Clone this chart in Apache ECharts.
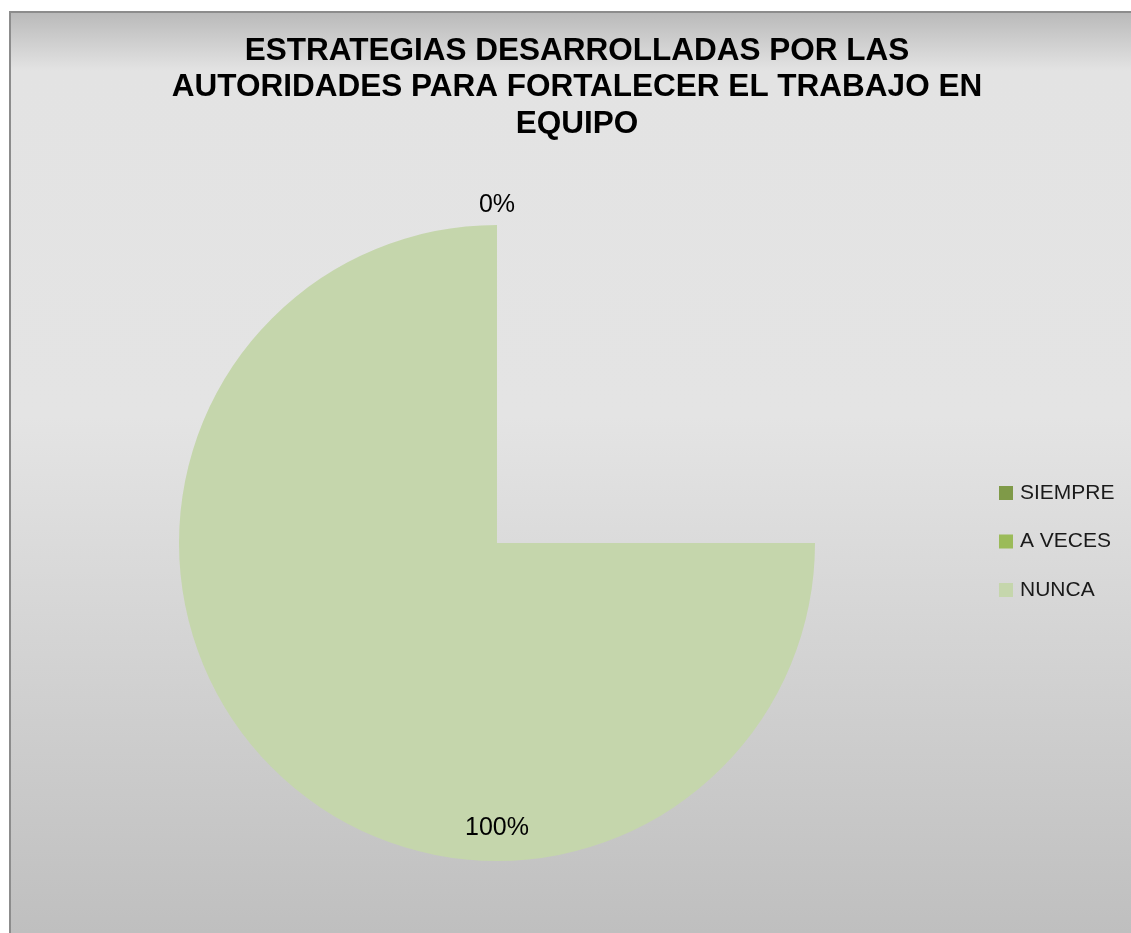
<!DOCTYPE html>
<html>
<head>
<meta charset="utf-8">
<title>Estrategias desarrolladas por las autoridades</title>
<script src="https://cdn.jsdelivr.net/npm/echarts@6/dist/echarts.min.js"></script>
<style>
  html, body { margin: 0; padding: 0; width: 1131px; height: 933px; overflow: hidden; background: #ffffff; }
  #frame {
    position: absolute; left: 9px; top: 11px; width: 1200px; height: 930px;
    border-left: 2px solid #8c8c8c; border-top: 2px solid #8c8c8c;
    background: linear-gradient(to bottom, #bababa 0%, #e3e3e3 6.2%, #e4e4e4 43.4%, #bfbfbf 98.9%, #bebebe 100%);
  }
  #chart { position: absolute; left: 0; top: 0; width: 1131px; height: 933px; }
</style>
</head>
<body>
<div id="frame"></div>
<div id="chart"></div>
<script>
// Survey answers and their share of responses (%)
const categories = ['SIEMPRE', 'A VECES', 'NUNCA'];
const shares = [0, 0, 100];
const palette = ['#7F9A48', '#9BBB59', '#C5D6AC'];
const titleLines = [
  'ESTRATEGIAS DESARROLLADAS POR LAS',
  'AUTORIDADES PARA FORTALECER EL TRABAJO EN',
  'EQUIPO'
];

const pieData = categories.map((name, i) => ({ name: name, value: shares[i] }));
const FONT = '"Liberation Sans", Arial, sans-serif';
const CENTER = [497, 543];
const R = 318;

const chart = echarts.init(document.getElementById('chart'), null, { renderer: 'canvas' });

chart.setOption({
  backgroundColor: 'transparent',
  animation: false,
  color: palette,
  title: {
    text: titleLines.join('\n'),
    left: 577,
    top: 33,
    textAlign: 'center',
    padding: 0,
    textStyle: {
      fontFamily: FONT,
      fontSize: 31.5,
      fontWeight: 'bold',
      color: '#000000',
      lineHeight: 36.5
    }
  },
  legend: {
    orient: 'vertical',
    left: 999,
    top: 482,
    padding: 0,
    itemWidth: 14,
    itemHeight: 14,
    itemGap: 26.5,
    icon: 'rect',
    data: categories,
    textStyle: {
      fontFamily: FONT,
      fontSize: 21,
      lineHeight: 22,
      color: '#1a1a1a',
      padding: [0, 0, 0, 2]
    }
  },
  series: [
    {
      // drawn wedges: the arc runs clockwise from 3 o'clock round to 12 o'clock
      type: 'pie',
      center: CENTER,
      radius: [0, R],
      startAngle: 0,
      endAngle: -270,
      clockwise: true,
      data: pieData,
      itemStyle: { borderWidth: 0 },
      label: { show: false },
      labelLine: { show: false },
      emphasis: { disabled: true }
    },
    {
      // percentage labels for non-empty answers, inside the circle
      type: 'pie',
      center: CENTER,
      radius: [246, R],
      startAngle: 90,
      clockwise: true,
      silent: true,
      legendHoverLink: false,
      data: pieData,
      itemStyle: { color: 'rgba(0,0,0,0)', borderWidth: 0 },
      label: {
        show: true,
        position: 'inside',
        fontFamily: FONT,
        fontSize: 25,
        color: '#000000',
        formatter: p => (p.value > 0 ? p.percent + '%' : '')
      },
      labelLine: { show: false },
      emphasis: { disabled: true }
    },
    {
      // percentage labels for empty answers, just above the circle
      type: 'pie',
      center: CENTER,
      radius: [R, 352],
      startAngle: 90,
      clockwise: true,
      silent: true,
      legendHoverLink: false,
      data: pieData,
      itemStyle: { color: 'rgba(0,0,0,0)', borderWidth: 0 },
      label: {
        show: true,
        position: 'inside',
        fontFamily: FONT,
        fontSize: 25,
        color: '#000000',
        formatter: p => (p.value === 0 ? p.percent + '%' : '')
      },
      labelLayout: { hideOverlap: true },
      labelLine: { show: false },
      emphasis: { disabled: true }
    }
  ]
});
</script>
</body>
</html>
